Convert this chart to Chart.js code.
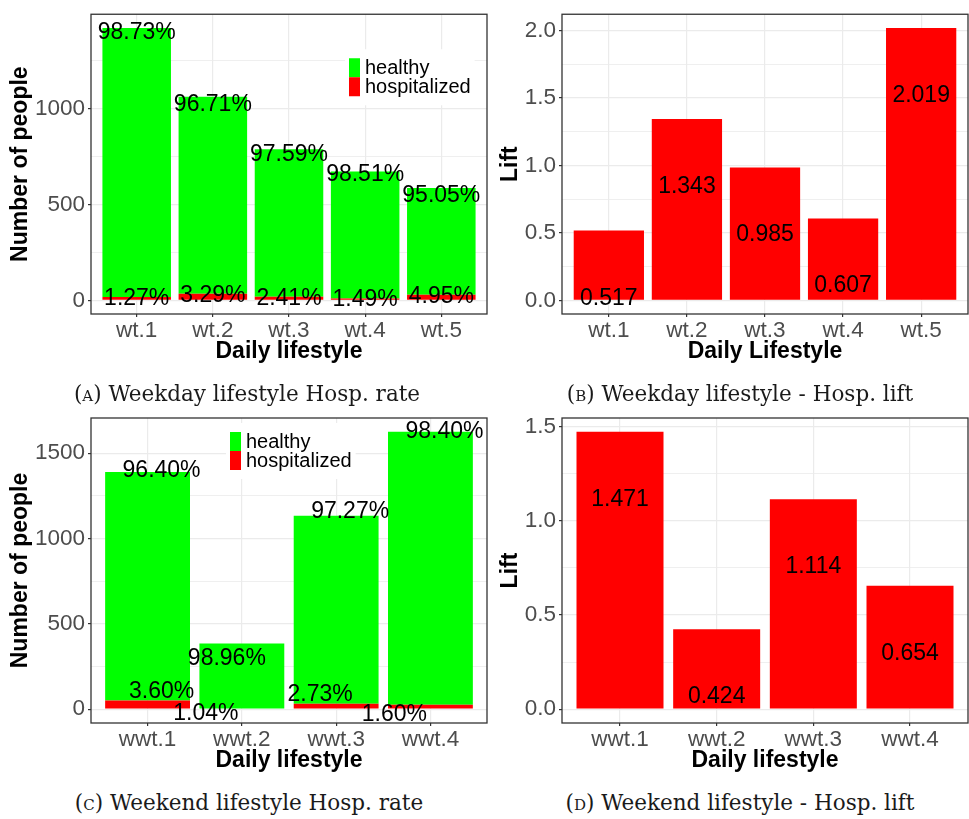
<!DOCTYPE html>
<html>
<head>
<meta charset="utf-8">
<title>Lifestyle and hospitalization</title>
<script src="https://cdn.jsdelivr.net/npm/chart.js@4.4.1/dist/chart.umd.min.js"></script>
<style>
  html, body { margin: 0; padding: 0; background: #fff; }
  #fig { position: relative; width: 969px; height: 819px; overflow: hidden; }
  #fig canvas { position: absolute; }
  .cap {
    position: absolute; white-space: nowrap; line-height: 1;
    font-family: 'DejaVu Serif', 'Liberation Serif', serif; font-size: 21.5px; color: #1a1a1a;
    transform: translateX(-50%);
  }
  .sc { font-variant: small-caps; }
</style>
</head>
<body>
<div id="fig">
  <canvas id="weekdayRate" style="left:0;top:0" width="490" height="370"></canvas>
  <canvas id="weekdayLift" style="left:490px;top:0" width="479" height="370"></canvas>
  <canvas id="weekendRate" style="left:0;top:400px" width="490" height="379"></canvas>
  <canvas id="weekendLift" style="left:490px;top:400px" width="479" height="379"></canvas>
  <div class="cap" style="left:247px;top:383px">(<span class="sc">a</span>) Weekday lifestyle Hosp. rate</div>
  <div class="cap" style="left:740px;top:383px">(<span class="sc">b</span>) Weekday lifestyle - Hosp. lift</div>
  <div class="cap" style="left:249px;top:792px">(<span class="sc">c</span>) Weekend lifestyle Hosp. rate</div>
  <div class="cap" style="left:740px;top:792px">(<span class="sc">d</span>) Weekend lifestyle - Hosp. lift</div>
</div>
<script>
// ---- data ----
const weekdayCats = ['wt.1', 'wt.2', 'wt.3', 'wt.4', 'wt.5'];
const weekdayHealthy = [1404, 1028, 769, 663, 557];
const weekdayHosp = [18, 35, 19, 10, 29];
const weekdayLift = [0.517, 1.343, 0.985, 0.607, 2.019];

const weekendCats = ['wwt.1', 'wwt.2', 'wwt.3', 'wwt.4'];
const weekendHealthy = [1340, 380, 1103, 1599];
const weekendHosp = [50, 4, 31, 26];
const weekendLift = [1.471, 0.424, 1.114, 0.654];

// label nudges (px) for the weekend rate panel: [dx, dy]
const weekendNudgeHealthy = [[14, -11], [-15, 13], [14, -11], [14, -6]];
const weekendNudgeHosp = [[14, -11], [-36, 4], [-16, -11], [-36, 8]];

// ---- styling ----
const FONT = "'Liberation Sans', Arial, sans-serif";
const GREEN = '#00FF00';
const RED = '#FF0000';
const GRID = '#EBEBEB';
const INK = '#333333';
const TICK_TEXT = '#4D4D4D';

Chart.defaults.font.family = FONT;
Chart.defaults.animation = false;

// Full rectangle around the plotting panel
const panelFrame = {
  id: 'panelFrame',
  afterDraw(chart) {
    const a = chart.chartArea, ctx = chart.ctx;
    ctx.save();
    ctx.strokeStyle = INK;
    ctx.lineWidth = 1.3;
    ctx.strokeRect(a.left, a.top, a.right - a.left, a.bottom - a.top);
    ctx.restore();
  }
};

function buildChart(id, o) {
  const n = o.cats.length;
  const hi = o.maxValue * 1.05, lo = -o.maxValue * 0.05;
  const half = o.step / 2;
  const tickVals = [];
  for (let k = 0; k * half <= hi + 1e-9; k++) tickVals.push(+(k * half).toFixed(6));
  const isMajor = v => Math.abs(v / o.step - Math.round(v / o.step)) < 1e-6;

  return new Chart(document.getElementById(id), {
    type: 'bar',
    data: { datasets: o.datasets },
    options: {
      responsive: false,
      devicePixelRatio: 1,
      animation: false,
      layout: { padding: o.padding },
      plugins: { legend: { display: false }, tooltip: { enabled: false } },
      datasets: { bar: { barPercentage: 0.9, categoryPercentage: 1, borderWidth: 0 } },
      scales: {
        x: {
          type: 'linear', min: -0.6, max: n - 1 + 0.6, offset: false, stacked: true,
          afterBuildTicks: s => { s.ticks = o.cats.map((_, i) => ({ value: i })); },
          afterFit: s => { s.height = 56; },
          ticks: {
            autoSkip: false, maxRotation: 0, padding: 2.5,
            color: TICK_TEXT, font: { size: 22.5, lineHeight: 1 },
            callback: v => o.cats[v]
          },
          grid: { offset: false, color: GRID, lineWidth: 1.2, tickColor: INK, tickLength: 3, tickWidth: 1.2 },
          border: { display: false },
          title: {
            display: true, text: o.xTitle, color: '#000',
            font: { size: 23, weight: 'bold', lineHeight: 1.2 },
            padding: { top: 0, bottom: 4.5 }
          }
        },
        y: {
          type: 'linear', min: lo, max: hi, stacked: true,
          afterBuildTicks: s => { s.ticks = tickVals.map(v => ({ value: v })); },
          afterFit: s => { s.width = o.yWidth; },
          ticks: {
            autoSkip: false, padding: 3, color: TICK_TEXT, font: { size: 22.5, lineHeight: 1 },
            callback: v => isMajor(v) ? o.fmt(v) : ''
          },
          grid: {
            color: GRID,
            lineWidth: c => isMajor(c.tick.value) ? 1.2 : 0.8,
            tickColor: c => isMajor(c.tick.value) ? INK : 'rgba(0,0,0,0)',
            tickLength: 3, tickWidth: 1.2
          },
          border: { display: false },
          title: {
            display: true, text: o.yTitle, color: '#000',
            font: { size: 23, weight: 'bold', lineHeight: 1.2 },
            padding: { top: 7.2, bottom: 0 }
          }
        }
      }
    },
    plugins: [o.overlay, panelFrame]
  });
}

const pts = arr => arr.map((v, i) => ({ x: i, y: v }));
const pct = (part, whole) => (100 * part / whole).toFixed(2) + '%';

// Stacked counts (hospitalized at the bottom, healthy on top) with share labels and a key
function rateChart(id, cats, healthy, hosp, opt) {
  const totals = healthy.map((h, i) => h + hosp[i]);
  const zero = cats.map(() => [0, 0]);
  const nudgeH = opt.nudgeHealthy || zero;
  const nudgeS = opt.nudgeHosp || zero;
  const overlay = {
    id: 'rateOverlay',
    afterDatasetsDraw(chart) {
      const { ctx, chartArea: a } = chart;
      const x = chart.scales.x, y = chart.scales.y;
      ctx.save();
      ctx.font = '23px ' + FONT;
      ctx.fillStyle = '#000';
      ctx.textAlign = 'center';
      ctx.textBaseline = 'alphabetic';
      healthy.forEach((h, i) => {
        ctx.fillText(pct(h, totals[i]), x.getPixelForValue(i) + nudgeH[i][0], y.getPixelForValue(h) + 8 + nudgeH[i][1]);
      });
      hosp.forEach((s, i) => {
        ctx.fillText(pct(s, totals[i]), x.getPixelForValue(i) + nudgeS[i][0], y.getPixelForValue(s) + 8 + nudgeS[i][1]);
      });

      // key
      const items = chart.data.datasets.slice().reverse();
      ctx.font = '20px ' + FONT;
      ctx.textAlign = 'left';
      const tw = Math.max(...items.map(d => ctx.measureText(d.label).width));
      const kx = a.left + opt.keyAt[0], ky = a.top + opt.keyAt[1];
      ctx.fillStyle = '#fff';
      ctx.fillRect(kx - 4, ky - 9, 11 + 5 + tw + 8, 19 * items.length + 18);
      items.forEach((d, k) => {
        ctx.fillStyle = d.backgroundColor;
        ctx.fillRect(kx, ky + 19 * k, 11, 19);
        ctx.fillStyle = '#000';
        ctx.fillText(d.label, kx + 16, ky + 19 * k + 16);
      });
      ctx.restore();
    }
  };
  return buildChart(id, {
    cats, maxValue: Math.max(...totals), step: 500, fmt: v => String(v),
    xTitle: 'Daily lifestyle', yTitle: 'Number of people',
    yWidth: opt.yWidth, padding: opt.padding, overlay,
    datasets: [
      { label: 'hospitalized', data: pts(hosp), backgroundColor: RED },
      { label: 'healthy', data: pts(healthy), backgroundColor: GREEN }
    ]
  });
}

// Single-series lift bars with the value printed inside each bar
function liftChart(id, cats, lift, opt) {
  const overlay = {
    id: 'liftOverlay',
    afterDatasetsDraw(chart) {
      const { ctx } = chart;
      const x = chart.scales.x, y = chart.scales.y;
      ctx.save();
      ctx.font = '23px ' + FONT;
      ctx.fillStyle = '#000';
      ctx.textAlign = 'center';
      ctx.textBaseline = 'alphabetic';
      lift.forEach((v, i) => {
        ctx.fillText(v.toFixed(3), x.getPixelForValue(i), y.getPixelForValue(v) + 74);
      });
      ctx.restore();
    }
  };
  return buildChart(id, {
    cats, maxValue: Math.max(...lift), step: 0.5, fmt: v => v.toFixed(1),
    xTitle: opt.xTitle, yTitle: 'Lift',
    yWidth: opt.yWidth, padding: opt.padding, overlay,
    datasets: [{ label: 'Lift', data: pts(lift), backgroundColor: RED }]
  });
}

rateChart('weekdayRate', weekdayCats, weekdayHealthy, weekdayHosp, {
  yWidth: 91, padding: { left: 0, top: 10, right: 3, bottom: 0 }, keyAt: [258, 44]
});
liftChart('weekdayLift', weekdayCats, weekdayLift, {
  xTitle: 'Daily Lifestyle', yWidth: 72, padding: { left: 0, top: 10, right: 1, bottom: 0 }
});
rateChart('weekendRate', weekendCats, weekendHealthy, weekendHosp, {
  yWidth: 91, padding: { left: 0, top: 18, right: 3, bottom: 0 }, keyAt: [139, 14],
  nudgeHealthy: weekendNudgeHealthy, nudgeHosp: weekendNudgeHosp
});
liftChart('weekendLift', weekendCats, weekendLift, {
  xTitle: 'Daily lifestyle', yWidth: 72, padding: { left: 0, top: 18, right: 1, bottom: 0 }
});
</script>
</body>
</html>
